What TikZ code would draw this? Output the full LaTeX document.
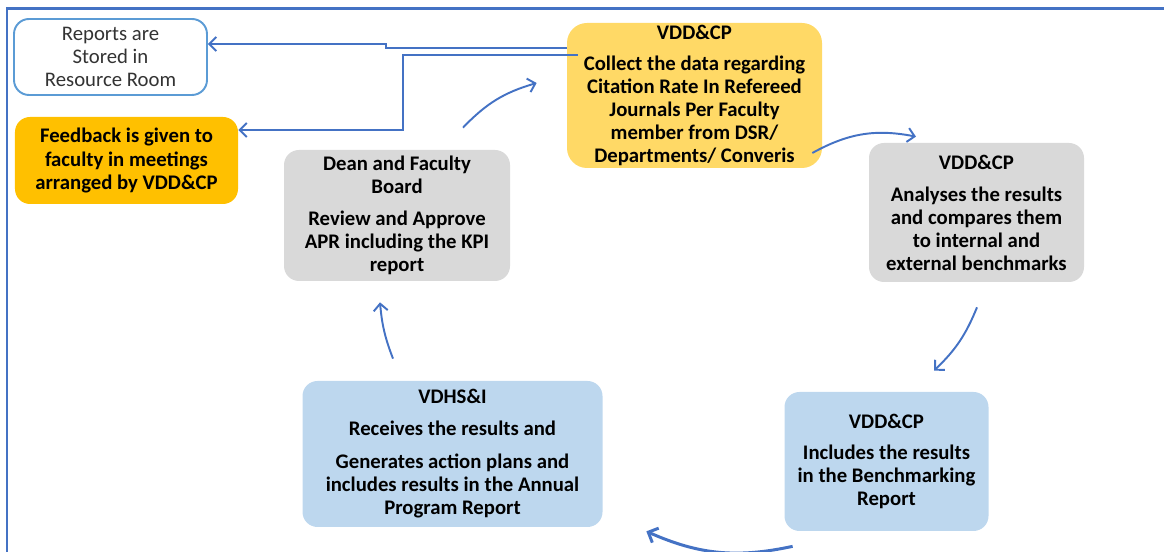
\documentclass[tikz,border=0pt]{standalone}
\usepackage{fontspec}
\setmainfont{Carlito}
\usepackage{xcolor}
\definecolor{arrowblue}{HTML}{4472C4}
\definecolor{borderblue}{HTML}{5B9BD5}
\definecolor{collectfill}{HTML}{FFD966}
\definecolor{feedbackfill}{HTML}{FFC000}
\definecolor{greyfill}{HTML}{D9D9D9}
\definecolor{lightbluefill}{HTML}{BDD7EE}
\usepackage{tikz}
\usetikzlibrary{arrows.meta}
\usetikzlibrary{positioning}
\tikzstyle{block} = [rectangle, rounded corners=0.3cm, align=center, inner sep=0pt,
    font=\bfseries\fontsize{11.8}{13.1}\selectfont]
\tikzstyle{line} = [draw=arrowblue, line width=1.1pt, -{Straight Barb[length=4pt,width=8pt]}]
\tikzstyle{outerframe} = [draw=arrowblue, line width=1.6pt]

\begin{document}
\begin{tikzpicture}[on grid]
    \useasboundingbox (0,0) rectangle (23.28,-11.04);
    \draw [outerframe] (0.14,-11.6) -- (0.14,-0.17) -- (23.7,-0.17);

    % Place nodes
    \node [block, fill=collectfill, rounded corners=0.4cm, minimum width=5.10cm, minimum height=2.90cm] (collect) at (13.89,-1.91) {VDD\&CP\\[0.16cm]Collect the data regarding\\Citation Rate In Refereed\\Journals Per Faculty\\member from DSR/\\Departments/ Converis};
    \node [block, fill=greyfill, minimum width=4.30cm, minimum height=2.78cm, below right=2.34cm and 5.64cm of collect] (analyse) {VDD\&CP\\[0.18cm]Analyses the results\\and compares them\\to internal and\\external benchmarks};
    \node [block, fill=lightbluefill, minimum width=4.08cm, minimum height=2.78cm, below left=4.98cm and 1.80cm of analyse] (include) {VDD\&CP\\[0.16cm]Includes the results\\in the Benchmarking\\Report};
    \node [block, fill=lightbluefill, minimum width=6.00cm, minimum height=2.92cm, above left=0.15cm and 8.68cm of include] (receive) {VDHS\&I\\[0.18cm]Receives the results and\\[0.2cm]Generates action plans and\\includes results in the Annual\\Program Report};
    \node [block, fill=greyfill, minimum width=4.52cm, minimum height=2.62cm, above left=4.77cm and 1.11cm of receive] (dean) {Dean and Faculty\\Board\\[0.18cm]Review and Approve\\APR including the KPI\\report};
    \node [block, fill=feedbackfill, minimum width=4.46cm, minimum height=1.74cm, above left=1.10cm and 5.41cm of dean] (feedback) {Feedback is given to\\faculty in meetings\\arranged by VDD\&CP};
    \node [block, draw=borderblue, line width=1.1pt, fill=white, text=black!80, font=\fontsize{11.8}{13.1}\selectfont, minimum width=3.86cm, minimum height=1.52cm, above left=2.07cm and 0.32cm of feedback] (reports) {Reports are\\Stored in\\Resource Room};

    % Draw edges
    \path [line] ([yshift=0.95cm]collect.west) -- ++(-3.62,0) |- ([yshift=0.26cm]reports.east);
    \path [line] ([xshift=0.22cm,yshift=0.81cm]collect.west) -- ++(-3.50,0) |- ([yshift=0.61cm]feedback.east);
    \path [line] ([xshift=1.32cm,yshift=0.44cm]dean.north) to [bend left=15] ([xshift=-0.60cm,yshift=0.25cm]collect.west);
    \path [line] ([xshift=-0.20cm,yshift=-1.15cm]collect.east) to [bend left=20] ([xshift=-1.21cm,yshift=0.12cm]analyse.north);
    \path [line] ([xshift=0.01cm,yshift=-0.50cm]analyse.south) to [bend left=12] ([xshift=0.95cm,yshift=0.42cm]include.north);
    \path [line, line width=1.7pt, -{Straight Barb[length=4.5pt,width=9pt]}] ([xshift=0.17cm,yshift=-0.30cm]include.south west) to [bend left=18] ([xshift=0.87cm,yshift=-0.08cm]receive.south east);
    \path [line] ([xshift=-1.19cm,yshift=0.44cm]receive.north) to [bend left=8] ([xshift=-0.34cm,yshift=-0.42cm]dean.south);
\end{tikzpicture}
\end{document}
